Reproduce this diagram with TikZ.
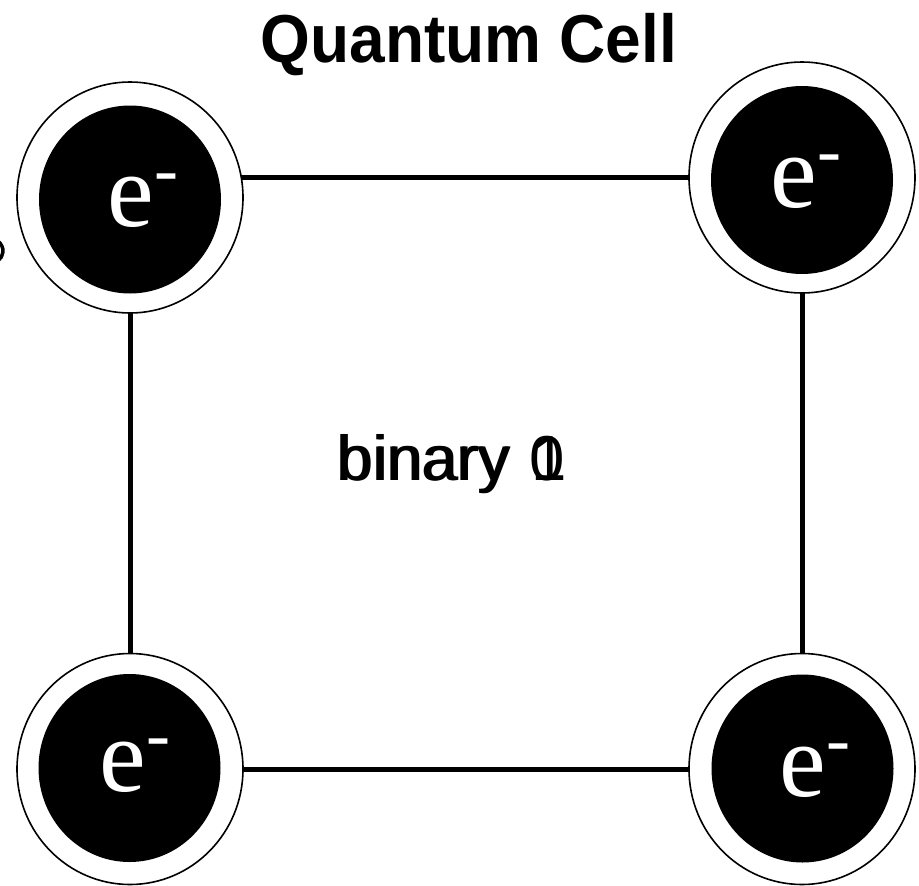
\documentclass[tikz,border=0pt]{standalone}
\usepackage{fontspec}
\setmainfont{Liberation Serif}
\setsansfont{Liberation Sans}
\usetikzlibrary{shapes.geometric}
\tikzset{
  ring/.style={ellipse, draw=black, line width=1.6pt, fill=white, minimum width=226pt, minimum height=231pt, inner sep=0pt, outer sep=0pt},
  core/.style={ellipse, fill=black, minimum width=182pt, minimum height=188pt, inner sep=0pt, outer sep=0pt},
  elabel/.style={anchor=base west, text=white, inner sep=0pt, outer sep=0pt, font=\rmfamily\fontsize{105}{110}\selectfont},
  wire/.style={line width=5pt},
  bintext/.style={anchor=base west, inner sep=0pt, font=\sffamily\fontsize{63.5}{70}\selectfont}
}
\newcommand{\electron}{e\raisebox{33pt}{\fontsize{72}{72}\selectfont -}}
\begin{document}
\begin{tikzpicture}[x=1pt,y=-1pt]
\fill[white] (0,0) rectangle (919,886);
\useasboundingbox (0,0) rectangle (919,886);

% rings
\node[ring] (tl) at (130,197.5) {};
\node[ring] (tr) at (802,177.5) {};
\node[ring] (bl) at (130,769) {};
\node[ring] (br) at (802,769) {};

% cores
\node[core] (tlc) at (130,199.5) {};
\node[core] (trc) at (802,180) {};
\node[core] (blc) at (129.5,768) {};
\node[core] (brc) at (802.5,768.5) {};

% electron labels
\node[elabel] (tle) at (107.5,226) {\electron};
\node[elabel] (tre) at (770.5,207) {\electron};
\node[elabel] (ble) at (99.5,791) {\electron};
\node[elabel] (bre) at (779.5,796) {\electron};

% wires
\draw[wire] (tl.10) -- (tl.10 -| tr.west);
\draw[wire] (tl.south) -- (bl.north);
\draw[wire] (tr.south) -- (br.north);
\draw[wire] (bl.east) -- (br.west);

% title
\node[anchor=base, inner sep=0pt, font=\sffamily\bfseries\fontsize{64}{70}\selectfont] (title) at (469,62) {\scalebox{1}[1.06]{Quantum Cell}};

% binary label (overprinted)
\node[bintext] (bin1) at (336.5,480) {binary \kern4pt1};
\node[bintext] (bin0) at (338.5,480) {binary 0};

% partial mark at left edge
\draw[line width=3.5pt] ([shift={(-55:12)}]-9,251) arc[start angle=-55, end angle=55, radius=12];
\end{tikzpicture}
\end{document}
